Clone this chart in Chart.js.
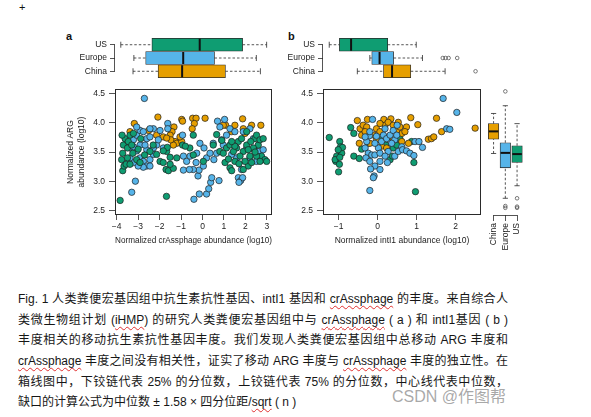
<!DOCTYPE html>
<html lang="zh"><head><meta charset="utf-8">
<script src="https://cdn.jsdelivr.net/npm/chart.js@4.4.1/dist/chart.umd.min.js"></script>
<style>
 html,body{margin:0;padding:0;background:#fff;}
 body{width:591px;height:417px;position:relative;overflow:hidden;}
 canvas{position:absolute;}
 .lbl{position:absolute;font-family:"Liberation Sans",Arial,sans-serif;color:#111;line-height:12px;}
 .cap{position:absolute;left:18px;width:490px;font-family:"Liberation Sans","Noto Sans CJK SC",sans-serif;font-size:12px;line-height:16px;color:#161616;white-space:nowrap;text-align:justify;text-align-last:justify;}
 .cap.last{text-align:left;text-align-last:left;}
 .sp{text-decoration:underline wavy #e03030;text-decoration-thickness:1px;text-underline-offset:2px;}
 .wm{position:absolute;left:392px;top:388px;font-family:"Liberation Sans","Noto Sans CJK SC",sans-serif;font-size:16px;line-height:18px;color:rgba(140,140,140,0.75);white-space:nowrap;}
</style></head><body>
<div class="lbl" style="left:19px;top:1px;font-size:11px;">+</div>
<div class="lbl" style="left:66px;top:30px;font-size:11px;font-weight:bold;">a</div>
<div class="lbl" style="left:288px;top:30px;font-size:11px;font-weight:bold;">b</div>
<canvas id="aTop" width="220" height="56" style="left:60px;top:30px"></canvas>
<canvas id="aSc" width="220" height="166" style="left:60px;top:80px"></canvas>
<canvas id="bTop" width="210" height="56" style="left:280px;top:30px"></canvas>
<canvas id="bSc" width="190" height="166" style="left:300px;top:80px"></canvas>
<canvas id="rBox" width="50" height="175" style="left:480px;top:80px"></canvas>
<div class="cap" style="top:291px">Fig. 1 人类粪便宏基因组中抗生素抗性基因、intI1 基因和 <span class="sp">crAssphage</span> 的丰度。来自综合人</div>
<div class="cap" style="top:312px">类微生物组计划 (<span class="sp">iHMP</span>) 的研究人类粪便宏基因组中与 <span class="sp">crAssphage</span> ( a ) 和 intI1基因 ( b )</div>
<div class="cap" style="top:332px">丰度相关的移动抗生素抗性基因丰度。我们发现人类粪便宏基因组中总移动 ARG 丰度和</div>
<div class="cap" style="top:353px"><span class="sp">crAssphage</span> 丰度之间没有相关性，证实了移动 ARG 丰度与 <span class="sp">crAssphage</span> 丰度的独立性。在</div>
<div class="cap" style="top:374px">箱线图中，下铰链代表 25% 的分位数，上铰链代表 75% 的分位数，中心线代表中位数，</div>
<div class="cap last" style="top:394px">缺口的计算公式为中位数 ± 1.58 × 四分位距/<span class="sp">sqrt</span> ( n )</div>
<div class="wm">CSDN @作图帮</div>
<script>
// ---------- data ----------
const groupsTop = ['US','Europe','China'];
const groupsRight = ['China','Europe','US'];
const aXTicks = [-4,-3,-2,-1,0,1,2,3];
const bXTicks = [-1,0,1,2];
const yTicks = [2.5,3.0,3.5,4.0,4.5];
const aXTitle = 'Normalized crAssphage abundance (log10)';
const bXTitle = 'Normalized intI1 abundance (log10)';
const aYTitle = ['Normalized ARG','abundance (log10)'];

// panel a top boxplot (crAssphage), order US, Europe, China
const aBoxLow  = [-3.81,-3.20,-3.24];
const aBoxQ1   = [-2.36,-2.65,-2.07];
const aBoxMed  = [-0.13,-0.90,-0.95];
const aBoxQ3   = [1.87,0.56,1.07];
const aBoxHigh = [2.99,2.51,2.70];
const aBoxOut  = [[],[],[]];
// panel b top boxplot (intI1)
const bBoxLow  = [-1.24,-0.20,-0.52];
const bBoxQ1   = [-0.98,-0.15,0.15];
const bBoxMed  = [-0.68,0.05,0.37];
const bBoxQ3   = [0.26,0.41,0.85];
const bBoxHigh = [0.99,1.15,1.73];
const bBoxOut  = [[],[1.67,1.74,1.82,2.04],[2.51]];
// right boxplot (ARG), order China, Europe, US
const rBoxLow  = [3.45,2.70,2.91];
const rBoxQ1   = [3.69,3.21,3.30];
const rBoxMed  = [3.82,3.46,3.44];
const rBoxQ3   = [3.95,3.63,3.58];
const rBoxHigh = [4.12,4.25,3.95];
const rBoxOut  = [[],[4.49,2.57,2.54],[2.70,2.56,2.54]];

// panel a scatter: [crAssphage, ARG]
const aUS = [[-3.84,2.67],[-1.68,2.74],[-3.72,3.18],[-3.66,3.26],[-3.77,3.37],[-3.72,3.48],[-3.69,3.62],[-3.61,3.73],[-3.75,3.79],[-3.38,3.79],[-3.46,3.68],[-3.50,3.57],[-3.50,3.40],[-3.56,3.29],[-3.38,3.29],[-3.25,3.48],[-3.07,3.37],[-2.91,3.32],[-3.22,3.82],[-2.88,3.73],[-2.45,3.51],[-2.14,3.46],[-1.98,3.34],[-1.83,3.32],[-1.67,3.51],[-1.70,3.20],[-1.59,3.18],[-1.36,3.22],[-1.51,3.29],[-1.20,3.40],[-1.51,3.41],[-1.64,3.58],[-1.83,3.52],[-0.93,3.62],[-0.43,3.79],[-0.43,3.45],[-0.59,3.57],[0.04,3.34],[0.66,3.80],[0.81,3.51],[1.05,3.32],[1.21,3.38],[1.28,3.23],[1.36,3.18],[1.51,3.34],[1.59,3.57],[1.67,3.68],[1.82,3.73],[1.90,3.51],[2.06,3.85],[2.13,3.26],[2.21,3.43],[2.29,3.32],[2.44,3.73],[2.52,3.79],[2.60,3.62],[2.68,3.71],[2.75,3.43],[2.83,3.73],[2.91,3.37],[2.99,3.34],[2.37,3.57],[1.98,3.34],[1.75,3.43],[1.44,3.51],[1.12,3.57],[0.97,3.48],[1.28,3.62],[1.51,3.60],[2.06,3.62],[2.25,3.68],[2.52,3.43],[2.68,3.34],[1.36,3.68],[2.13,3.54],[-3.30,3.62],[-3.00,3.55],[-2.70,3.45],[-2.30,3.62],[-0.80,3.60],[0.50,3.62],[0.90,3.70],[1.70,3.30],[1.90,3.20],[2.45,3.50]];
const aEurope = [[-2.71,4.42],[-3.30,2.81],[-3.13,3.00],[-0.40,2.69],[-0.15,2.78],[0.19,2.78],[0.29,2.87],[0.38,2.98],[0.77,3.01],[-0.21,3.09],[-0.16,3.19],[0.04,3.26],[0.43,3.06],[1.67,3.06],[1.78,3.01],[1.87,3.06],[1.70,2.98],[-1.62,3.99],[-1.62,3.90],[-0.93,3.79],[0.70,4.03],[1.03,4.06],[0.81,3.93],[-0.89,3.43],[-0.74,3.34],[-0.58,3.43],[-0.27,3.48],[-0.12,3.65],[0.07,3.57],[0.19,3.40],[0.35,3.48],[0.50,3.65],[0.53,3.37],[0.66,3.48],[0.97,3.62],[-0.43,3.20],[-0.89,3.19],[-0.61,3.20],[-0.30,3.32],[1.28,3.90],[1.51,3.85],[1.90,3.85],[2.21,3.90],[2.06,3.57],[2.40,3.54],[2.60,3.51],[2.83,3.54],[1.59,3.40],[1.36,3.46],[1.82,3.20],[2.21,3.40],[2.52,3.34],[2.37,3.73],[1.12,3.79],[0.89,3.71],[-3.53,3.68],[-3.38,3.57],[-3.22,3.71],[-3.07,3.79],[-2.91,3.87],[-2.76,3.85],[-2.60,3.73],[-2.45,3.76],[-2.29,3.90],[-2.14,3.62],[-3.07,3.52],[-2.91,3.40],[-2.76,3.34],[-2.60,3.26],[-2.45,3.37],[-2.29,3.46],[-2.76,3.24],[-3.00,3.26],[-3.22,3.32],[-3.38,3.40],[-2.45,3.26],[-2.91,3.62],[-3.22,3.59],[-2.60,3.54],[-2.06,3.71],[-1.83,3.57],[-1.98,3.87],[-2.45,3.90],[-3.07,3.93],[-2.68,3.62],[-2.29,3.57]];
const aChina = [[-3.18,3.99],[-2.08,4.10],[-0.97,4.06],[-0.93,4.03],[-0.46,4.08],[-0.30,4.08],[0.12,4.08],[-0.38,3.99],[-0.48,3.90],[-1.33,3.93],[-1.42,3.85],[-1.51,3.79],[-1.83,3.76],[-2.14,3.79],[-2.51,3.87],[-1.28,3.68],[-1.20,3.65],[-0.97,3.68],[-1.36,3.62],[-1.48,3.71],[-1.05,3.76],[-1.67,3.74],[1.08,3.96],[0.97,3.96],[1.51,3.96],[1.87,4.07],[2.29,3.96],[2.72,3.96],[1.90,3.90],[1.98,3.82],[1.36,3.85],[-3.38,3.85]];

// panel b scatter: [intI1, ARG]
const bUS = [[-1.24,3.75],[-1.07,3.34],[-1.00,3.16],[-0.98,3.29],[-0.97,3.68],[-0.95,3.59],[-0.92,3.48],[-0.90,3.58],[-1.05,3.43],[-1.01,3.54],[-1.09,3.37],[-0.97,3.41],[-0.69,3.92],[-0.61,3.82],[-0.61,3.43],[-0.47,3.39],[-0.41,3.55],[-0.24,3.65],[0.21,3.62],[0.32,3.37],[0.40,3.57],[0.49,3.62],[0.57,3.73],[0.87,3.68],[0.93,3.32],[0.97,2.82],[0.06,3.71],[0.38,3.43]];
const bEurope = [[1.68,4.42],[2.03,4.18],[-0.13,4.06],[-0.03,3.77],[-0.21,3.78],[-0.28,3.68],[-0.32,3.57],[-0.24,3.48],[-0.15,3.45],[-0.30,3.40],[-0.20,3.34],[-0.07,3.45],[0.02,3.57],[0.06,3.48],[0.10,3.68],[0.15,3.79],[0.23,3.73],[0.32,3.79],[0.40,3.87],[0.50,3.96],[0.44,3.71],[0.36,3.65],[0.27,3.51],[0.19,3.43],[0.06,3.34],[-0.07,3.26],[-0.18,3.21],[0.06,3.20],[-0.09,3.09],[-0.11,3.06],[-0.20,2.84],[0.25,3.32],[0.44,3.43],[0.53,3.51],[0.62,3.59],[0.64,3.54],[0.74,3.52],[0.83,3.48],[0.93,3.44],[0.96,3.68],[1.06,3.68],[1.15,3.58],[1.77,3.90],[1.85,3.89],[-0.20,3.85],[-0.32,3.76],[0.19,3.90],[0.49,3.79],[-0.07,3.65]];
const bChina = [[-0.52,4.04],[-0.26,4.06],[0.16,4.06],[0.34,4.07],[0.53,4.01],[0.85,4.09],[1.03,3.97],[0.74,3.93],[0.62,3.82],[0.70,3.85],[-0.45,3.90],[-0.37,3.96],[-0.41,3.79],[-0.28,3.93],[-0.03,3.90],[0.06,3.85],[0.19,3.96],[0.27,4.01],[0.40,3.96],[0.49,3.87],[0.57,3.93],[0.10,3.60],[-0.03,3.71],[0.23,3.57],[0.32,3.76],[0.40,3.73],[0.62,3.68],[0.79,3.65],[1.30,3.72],[1.38,3.73],[1.44,3.76],[1.51,4.08],[1.64,3.85],[2.50,3.91],[-0.47,3.65],[-0.20,3.65],[-0.32,3.85],[0.06,3.99],[-0.09,3.79]];

// ---------- styling ----------
const GREEN='#0f9d72', BLUE='#56b4e9', ORANGE='#e69f00', INK='#2a2a2a';
Chart.defaults.font.family='"Liberation Sans", Arial, sans-serif';
Chart.defaults.font.size=8.5;
Chart.defaults.color='#222';
Chart.defaults.animation=false;
Chart.defaults.responsive=false;
Chart.defaults.plugins.legend.display=false;
Chart.defaults.plugins.tooltip.enabled=false;

const tickGrid={display:true,drawOnChartArea:false,drawTicks:true,tickLength:5,color:INK,lineWidth:0.8,offset:false};
const fmtMinus=v=>(v<0?'\u2212':'')+Math.abs(v);

const framePlugin={id:'frame',afterDraw(c){const a=c.chartArea,x=c.ctx;x.save();x.strokeStyle=INK;x.lineWidth=1;x.strokeRect(Math.round(a.left)+0.5,Math.round(a.top)+0.5,Math.round(a.right-a.left)-1,Math.round(a.bottom-a.top)-1);x.restore();}};
const bracketPlugin={id:'bracket',afterDraw(c,args,o){if(!o||!o.axis)return;const s=c.scales[o.axis];const n=s.ticks.length;const p0=s.getPixelForTick(0),p1=s.getPixelForTick(n-1);const ctx=c.ctx;ctx.save();ctx.strokeStyle=INK;ctx.lineWidth=0.8;ctx.beginPath();if(o.axis==='y'){const x=c.chartArea.left-0.5;ctx.moveTo(x,p0);ctx.lineTo(x,p1);}else{const y=c.chartArea.bottom+0.5;ctx.moveTo(p0,y);ctx.lineTo(p1,y);}ctx.stroke();ctx.restore();}};
function boxExtras(low,q1,med,q3,high,out,horiz,half,cap){
 return {id:'boxExtras',afterDatasetsDraw(c){
  const ctx=c.ctx;const vs=horiz?c.scales.x:c.scales.y;const cs=horiz?c.scales.y:c.scales.x;
  const pt=(v,cp,off)=>horiz?[vs.getPixelForValue(v),cp+off]:[cp+off,vs.getPixelForValue(v)];
  const seg=(a,b)=>{ctx.beginPath();ctx.moveTo(a[0],a[1]);ctx.lineTo(b[0],b[1]);ctx.stroke();};
  ctx.save();
  low.forEach((lo,i)=>{
   const cp=cs.getPixelForValue(i);
   ctx.strokeStyle=INK;ctx.lineWidth=0.8;ctx.setLineDash([2.5,2]);
   seg(pt(lo,cp,0),pt(q1[i],cp,0));seg(pt(q3[i],cp,0),pt(high[i],cp,0));
   ctx.setLineDash([]);
   seg(pt(lo,cp,-cap),pt(lo,cp,cap));seg(pt(high[i],cp,-cap),pt(high[i],cp,cap));
   ctx.strokeStyle='#111';ctx.lineWidth=2;seg(pt(med[i],cp,-half+0.5),pt(med[i],cp,half-0.5));
   ctx.strokeStyle='#444';ctx.lineWidth=0.7;
   out[i].forEach(v=>{const p=pt(v,cp,0);ctx.beginPath();ctx.arc(p[0],p[1],1.8,0,Math.PI*2);ctx.stroke();});
  });
  ctx.restore();
 }};
}
const pts=arr=>arr.map(p=>({x:p[0],y:p[1]}));
const scatterDs=(arr,color,order)=>({data:pts(arr),backgroundColor:color,borderColor:'#1e1e1e',borderWidth:0.7,pointRadius:3.2,order});

function scatterChart(id,datasets,xmin,xmax,xticks,xtitle,yw,padR,ytitle){
 return new Chart(document.getElementById(id),{
  type:'scatter',data:{datasets},
  options:{layout:{padding:{top:6,right:padR,bottom:0,left:0}},
   scales:{
    x:{type:'linear',min:xmin,max:xmax,afterBuildTicks:s=>{s.ticks=xticks.map(v=>({value:v}));},afterFit:s=>{s.height=31;},
       grid:tickGrid,border:{display:false},ticks:{padding:2,maxRotation:0,autoSkip:false,callback:fmtMinus},
       title:{display:true,text:xtitle,padding:{top:0,bottom:0.5}}},
    y:{type:'linear',min:2.42,max:4.58,afterBuildTicks:s=>{s.ticks=yTicks.map(v=>({value:v}));},afterFit:s=>{s.width=yw;},
       grid:{...tickGrid,tickLength:6},border:{display:false},ticks:{padding:4,callback:v=>v.toFixed(1)},
       title:ytitle?{display:true,text:ytitle,padding:{top:5,bottom:0},font:{size:8.5,lineHeight:1.3}}:{display:false}}
   }},
  plugins:[framePlugin]
 });
}
scatterChart('aSc',[scatterDs(aUS,GREEN,1),scatterDs(aEurope,BLUE,2),scatterDs(aChina,ORANGE,3)],-4.08,3.24,aXTicks,aXTitle,55,8,aYTitle);
scatterChart('bSc',[scatterDs(bEurope,BLUE,1),scatterDs(bChina,ORANGE,2),scatterDs(bUS,GREEN,3)],-1.40,2.65,bXTicks,bXTitle,23,9,null);

function topBox(id,q1,q3,low,med,high,out,xmin,xmax,yw,padR){
 return new Chart(document.getElementById(id),{
  type:'bar',
  data:{labels:groupsTop,datasets:[{data:q1.map((q,i)=>[q,q3[i]]),backgroundColor:[GREEN,BLUE,ORANGE],borderColor:INK,borderWidth:0.8,borderSkipped:false,barThickness:13}]},
  options:{indexAxis:'y',layout:{padding:{top:6,right:padR,bottom:1,left:0}},
   scales:{x:{type:'linear',display:false,min:xmin,max:xmax},
    y:{type:'category',afterFit:s=>{s.width=yw;},grid:{...tickGrid,tickLength:5},border:{display:false},ticks:{padding:3,autoSkip:false}}},
   plugins:{bracket:{axis:'y'}}},
  plugins:[bracketPlugin,boxExtras(low,q1,med,q3,high,out,true,6.5,3)]
 });
}
topBox('aTop',aBoxQ1,aBoxQ3,aBoxLow,aBoxMed,aBoxHigh,aBoxOut,-4.08,3.24,55,8);
topBox('bTop',bBoxQ1,bBoxQ3,bBoxLow,bBoxMed,bBoxHigh,bBoxOut,-1.40,2.65,43,9);

new Chart(document.getElementById('rBox'),{
 type:'bar',
 data:{labels:groupsRight,datasets:[{data:rBoxQ1.map((q,i)=>[q,rBoxQ3[i]]),backgroundColor:[ORANGE,BLUE,GREEN],borderColor:INK,borderWidth:0.8,borderSkipped:false,barThickness:10.5}]},
 options:{layout:{padding:{top:6,right:4.4,bottom:0,left:7.7}},
  scales:{y:{type:'linear',display:false,min:2.42,max:4.58},
   x:{type:'category',afterFit:s=>{s.height=40;},grid:{...tickGrid,tickLength:6},border:{display:false},ticks:{padding:2,minRotation:90,maxRotation:90,autoSkip:false}}},
  plugins:{bracket:{axis:'x'}}},
 plugins:[bracketPlugin,boxExtras(rBoxLow,rBoxQ1,rBoxMed,rBoxQ3,rBoxHigh,rBoxOut,false,5.25,2.6)]
});
</script>
</body></html>
